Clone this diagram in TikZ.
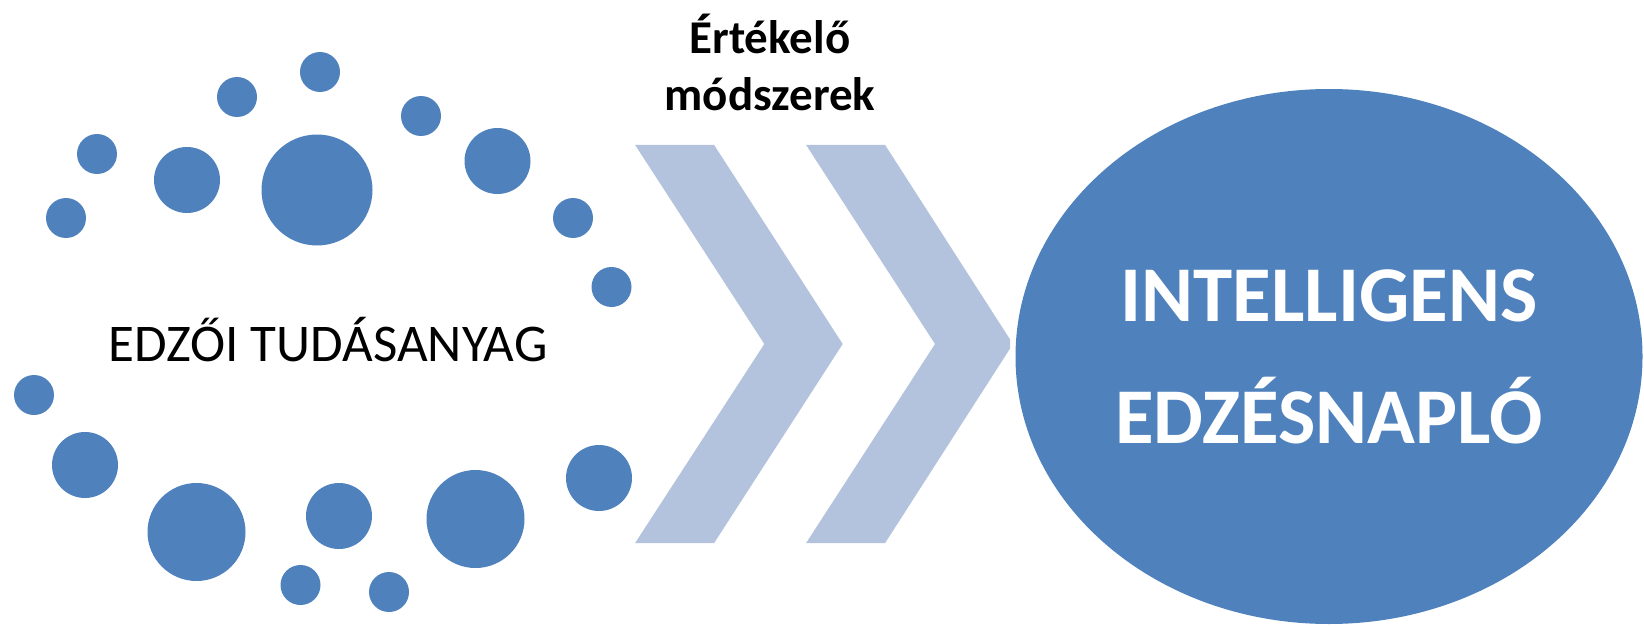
\documentclass[tikz,border=0pt]{standalone}
\usepackage{fontspec}
\setmainfont{Carlito}
\usetikzlibrary{shapes.geometric}

\definecolor{dotblue}{HTML}{4F81BD}
\definecolor{chevblue}{HTML}{B3C2DD}

\tikzset{
  dot/.style={circle, fill=dotblue, inner sep=0pt},
  chev/.style={fill=chevblue},
}

\begin{document}
\begin{tikzpicture}[x=1pt, y=-1pt]
\useasboundingbox (0,0) rectangle (1644,626);

% upper arc of dots
\node[dot, minimum size=40]  (d1)  at (320,72)    {};
\node[dot, minimum size=40]  (d2)  at (237,97)    {};
\node[dot, minimum size=40]  (d3)  at (97,154)    {};
\node[dot, minimum size=40]  (d4)  at (66,218)    {};
\node[dot, minimum size=66]  (d5)  at (187,180)   {};
\node[dot, minimum size=111] (d6)  at (317,190)   {};
\node[dot, minimum size=40]  (d7)  at (421,116)   {};
\node[dot, minimum size=66]  (d8)  at (497.5,161) {};
\node[dot, minimum size=40]  (d9)  at (573,218)   {};
\node[dot, minimum size=40]  (d10) at (611.5,287) {};

% lower arc of dots
\node[dot, minimum size=40]  (d11) at (34,395)    {};
\node[dot, minimum size=66]  (d12) at (85,465)    {};
\node[dot, minimum size=98]  (d13) at (196.5,532) {};
\node[dot, minimum size=66]  (d14) at (339,516)   {};
\node[dot, minimum size=40]  (d15) at (300.5,585) {};
\node[dot, minimum size=40]  (d16) at (389,592)   {};
\node[dot, minimum size=98]  (d17) at (475.5,519) {};
\node[dot, minimum size=66]  (d18) at (599,478)   {};

\node[anchor=base, inner sep=0pt, font=\fontsize{53}{63}\selectfont] (tudas) at (328,361) {EDZŐI TUDÁSANYAG};

% chevrons
\fill[chev] (635,144.8) -- (714,144.8) -- (842.7,344) -- (714,543.2) -- (635,543.2) -- (764.3,344) -- cycle;
\fill[chev] (806,144.8) -- (885,144.8) -- (1010,339.4) -- (1010,348.6) -- (885,543.2) -- (806,543.2) -- (935,344) -- cycle;

\node[align=center, inner sep=0pt, font=\bfseries\fontsize{47}{57}\selectfont] (modszer) at (770,62.5) {Értékelő\\módszerek};

\node[ellipse, fill=dotblue, inner sep=0pt, minimum width=627, minimum height=535,
      align=center, text=white, font=\bfseries\fontsize{79}{122}\selectfont] (naplo) at (1329,356.5) {INTELLIGENS\\EDZÉSNAPLÓ};

\end{tikzpicture}
\end{document}
